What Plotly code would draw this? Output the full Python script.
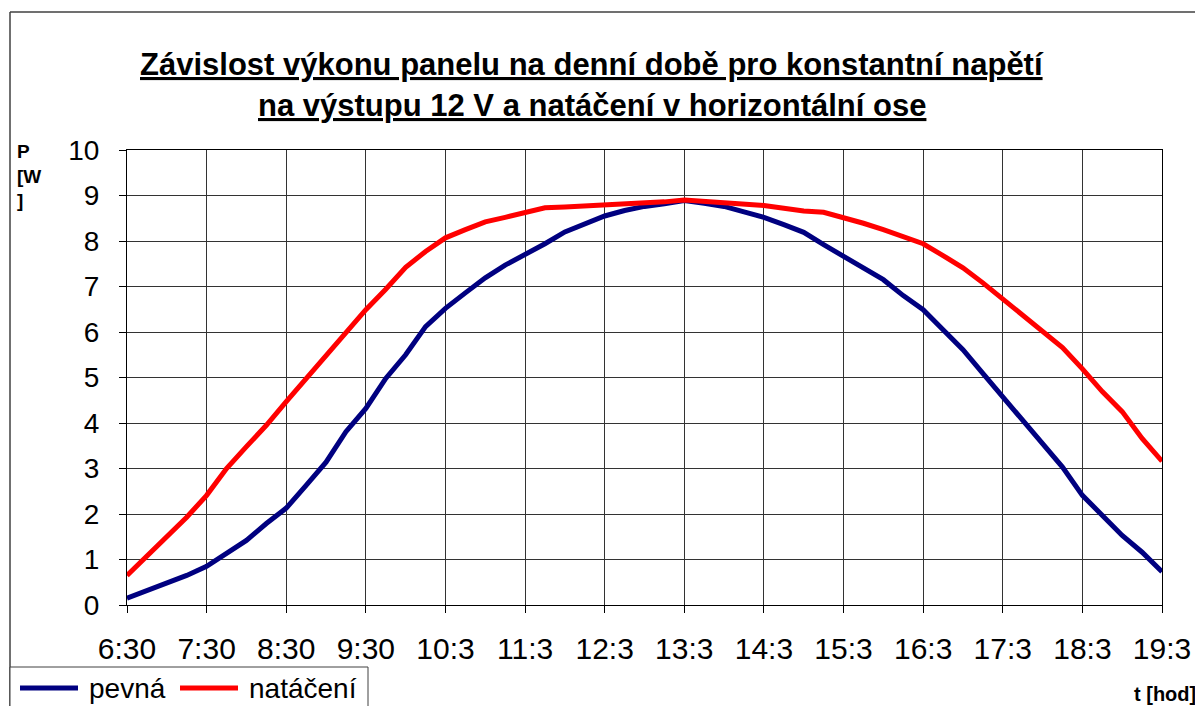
import plotly.graph_objects as go

# Measurement times, every 15 minutes
times = ["6:30", "6:45", "7:00", "7:15", "7:30", "7:45", "8:00", "8:15", "8:30", "8:45",
         "9:00", "9:15", "9:30", "9:45", "10:00", "10:15", "10:30", "10:45", "11:00", "11:15",
         "11:30", "11:45", "12:00", "12:15", "12:30", "12:45", "13:00", "13:15", "13:30", "13:45",
         "14:00", "14:15", "14:30", "14:45", "15:00", "15:15", "15:30", "15:45", "16:00", "16:15",
         "16:30", "16:45", "17:00", "17:15", "17:30", "17:45", "18:00", "18:15", "18:30", "18:45",
         "19:00", "19:15", "19:30"]

# Power [W] - fixed panel
pevna = [0.15, 0.31, 0.48, 0.65, 0.85, 1.15, 1.42, 1.79, 2.13, 2.63,
         3.14, 3.81, 4.32, 4.98, 5.50, 6.12, 6.52, 6.86, 7.19, 7.47,
         7.70, 7.94, 8.20, 8.38, 8.55, 8.67, 8.76, 8.82, 8.89, 8.83,
         8.76, 8.64, 8.52, 8.36, 8.19, 7.92, 7.66, 7.41, 7.15, 6.80,
         6.49, 6.05, 5.61, 5.09, 4.58, 4.06, 3.56, 3.03, 2.41, 1.97,
         1.53, 1.16, 0.73]

# Power [W] - panel tracking in the horizontal axis
nataceni = [0.65, 1.07, 1.48, 1.93, 2.41, 3.00, 3.48, 3.95, 4.47, 4.98,
            5.50, 5.97, 6.49, 6.94, 7.42, 7.77, 8.07, 8.25, 8.42, 8.52,
            8.62, 8.73, 8.75, 8.77, 8.79, 8.82, 8.84, 8.86, 8.90, 8.87,
            8.84, 8.81, 8.78, 8.72, 8.66, 8.63, 8.52, 8.39, 8.25, 8.10,
            7.94, 7.68, 7.41, 7.08, 6.73, 6.38, 6.01, 5.66, 5.19, 4.69,
            4.25, 3.66, 3.16]

# Category axis labels as printed (every 4th category, truncated)
tick_labels = ["6:30", "7:30", "8:30", "9:30", "10:3", "11:3", "12:3",
               "13:3", "14:3", "15:3", "16:3", "17:3", "18:3", "19:3"]

series_names = ["pevná", "natáčení"]
series_colors = ["#000080", "#FF0000"]

W, H = 1195, 706
L, R, T, B = 127, 1162, 150, 605  # plot area in pixels


def px(x):
    return (x - L) / (R - L)


def py(y):
    return (B - y) / (B - T)


FONT = "Liberation Sans, Arial, sans-serif"
idx = list(range(len(times)))

fig = go.Figure()
for name, vals, col in zip(series_names, [pevna, nataceni], series_colors):
    fig.add_trace(go.Scatter(
        x=idx, y=vals, mode="lines", name=name,
        customdata=times, hovertemplate="%{customdata}: %{y} W<extra>" + name + "</extra>",
        line=dict(color=col, width=5), showlegend=False,
    ))

grid_col = "#333333"
fig.update_xaxes(
    range=[0, len(times) - 1], tickmode="array",
    tickvals=idx[::4], ticktext=tick_labels,
    showgrid=True, gridcolor=grid_col, gridwidth=1,
    showline=True, linecolor="#000000", linewidth=1, mirror=True,
    ticks="outside", ticklen=7, tickcolor="#000000",
    tickfont=dict(family=FONT, size=30, color="#000000"),
    zeroline=False, ticklabelstandoff=10, automargin=False,
)
fig.update_yaxes(
    range=[0, 10], tickmode="linear", dtick=1, tick0=0,
    showgrid=True, gridcolor=grid_col, gridwidth=1,
    showline=True, linecolor="#000000", linewidth=1, mirror=True,
    ticks="outside", ticklen=7, tickcolor="#000000",
    tickfont=dict(family=FONT, size=28, color="#000000"),
    zeroline=False, ticklabelstandoff=14, automargin=False,
)

annotations = [
    dict(text="<b><u>Závislost výkonu panelu na denní době pro konstantní napětí</u></b>",
         x=px(592), y=py(64), xref="paper", yref="paper", xanchor="center", yanchor="middle",
         showarrow=False, font=dict(family=FONT, size=31, color="#000000")),
    dict(text="<b><u>na výstupu 12 V a natáčení v horizontální ose</u></b>",
         x=px(592), y=py(106), xref="paper", yref="paper", xanchor="center", yanchor="middle",
         showarrow=False, font=dict(family=FONT, size=31, color="#000000")),
    dict(text="<b>P<br>[W<br>]</b>", x=px(15), y=py(139), xref="paper", yref="paper",
         xanchor="left", yanchor="top", align="left", showarrow=False,
         font=dict(family=FONT, size=19, color="#000000")),
    dict(text="<b>t [hod]</b>", x=px(1132), y=py(694), xref="paper", yref="paper",
         xanchor="left", yanchor="middle", align="left", showarrow=False,
         font=dict(family=FONT, size=20, color="#000000")),
]

shapes = [
    # chart frame
    dict(type="line", xref="paper", yref="paper", x0=px(10), x1=px(1200), y0=py(12), y1=py(12),
         line=dict(color="#404040", width=1.5)),
    dict(type="line", xref="paper", yref="paper", x0=px(10), x1=px(10), y0=py(12), y1=py(712),
         line=dict(color="#404040", width=1.5)),
    # legend box
    dict(type="rect", xref="paper", yref="paper", x0=px(10), x1=px(368), y0=py(667), y1=py(712),
         line=dict(color="#404040", width=1), fillcolor="#FFFFFF"),
]

# legend entries
leg_items = [(20, 78, 87), (180, 238, 247)]
for (x0, x1, xt), name, col in zip(leg_items, series_names, series_colors):
    shapes.append(dict(type="line", xref="paper", yref="paper", x0=px(x0), x1=px(x1),
                       y0=py(688), y1=py(688), line=dict(color=col, width=5)))
    annotations.append(dict(text=name, x=px(xt), y=py(688), xref="paper", yref="paper",
                            xanchor="left", yanchor="middle", showarrow=False,
                            font=dict(family=FONT, size=28, color="#000000")))

fig.update_layout(
    width=W, height=H,
    margin=dict(l=L, r=W - R, t=T, b=H - B, pad=0, autoexpand=False),
    paper_bgcolor="#FFFFFF", plot_bgcolor="#FFFFFF",
    annotations=annotations, shapes=shapes,
    showlegend=False,
)

fig.write_html("out.html")
